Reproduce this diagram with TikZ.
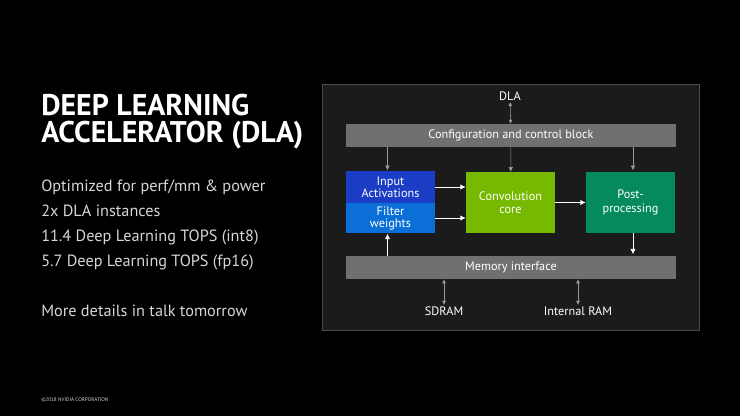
\documentclass[tikz,border=0pt]{standalone}
\usepackage{fontspec}
\setmainfont{PT Sans}
\usepackage{xcolor}
\usetikzlibrary{arrows.meta,positioning}

\definecolor{panelbg}{HTML}{1B1B1B}
\definecolor{panelrule}{HTML}{4A4A4A}
\definecolor{bargray}{HTML}{707070}
\definecolor{actblue}{HTML}{1B3DC6}
\definecolor{wgtblue}{HTML}{0B6FD8}
\definecolor{nvgreen}{HTML}{76B900}
\definecolor{postteal}{HTML}{058A60}
\definecolor{tipgray}{HTML}{9A9A9A}
\definecolor{bodytext}{HTML}{D6D6D6}

\begin{document}
\begin{tikzpicture}[x=0.75pt,y=-0.75pt,font=\fontsize{9.2pt}{10pt}\selectfont,
  bar/.style={fill=bargray,text=white,minimum width=247.5pt,minimum height=17.25pt,inner sep=0pt},
  unit/.style={text=white,align=center,minimum width=66.75pt,inner sep=0pt},
  lbl/.style={text=white,inner sep=1pt},
  arr/.style={-{Latex[length=4pt,width=4pt]},semithick,white},
  carr/.style={-{Latex[length=3.5pt,width=3.5pt]},thin,tipgray},
  darr/.style={{Latex[length=3pt,width=3pt]}-{Latex[length=3pt,width=3pt]},thin,tipgray}]
  % page and panel
  \fill[black] (0,0) rectangle (740,416);
  \filldraw[fill=panelbg,draw=panelrule] (322,84) rectangle (699,330);
  % left column
  \node[anchor=base west,inner sep=0pt,text=white,font=\fontsize{22.4pt}{25pt}\selectfont\bfseries] (title1) at (41,116) {DEEP LEARNING};
  \node[anchor=base west,inner sep=0pt,text=white,font=\fontsize{22.4pt}{25pt}\selectfont\bfseries] (title2) at (41,143) {ACCELERATOR (DLA)};
  \node[anchor=base west,inner sep=0pt,text=bodytext,font=\fontsize{12.2pt}{14pt}\selectfont] (pt1) at (41,192) {Optimized for perf/mm \& power};
  \node[anchor=base west,inner sep=0pt,text=bodytext,font=\fontsize{12.2pt}{14pt}\selectfont] (pt2) at (41,217) {2x DLA instances};
  \node[anchor=base west,inner sep=0pt,text=bodytext,font=\fontsize{12.2pt}{14pt}\selectfont] (pt3) at (41,242) {11.4 Deep Learning TOPS (int8)};
  \node[anchor=base west,inner sep=0pt,text=bodytext,font=\fontsize{12.2pt}{14pt}\selectfont] (pt4) at (41,267) {5.7 Deep Learning TOPS (fp16)};
  \node[anchor=base west,inner sep=0pt,text=bodytext,font=\fontsize{12.2pt}{14pt}\selectfont] (more) at (41,317) {More details in talk tomorrow};
  \node[anchor=base west,inner sep=0pt,text=bodytext,font=\fontsize{3.9pt}{5pt}\selectfont] (copy) at (41,402) {\textcopyright2018 NVIDIA CORPORATION};
  % block diagram
  \node[lbl] (dla) at (510,96) {DLA};
  \node[bar] (cfg) at (511,135.5) {Configuration and control block};
  \node[unit,fill=actblue,minimum height=24pt] (inact) at (390.5,187) {Input\\[-1pt]Activations};
  \node[unit,fill=wgtblue,minimum height=22.5pt] (filt) at (390.5,218) {Filter\\[-1pt]weights};
  \node[unit,fill=nvgreen,minimum height=45.75pt] (conv) at (510.5,202.5) {Convolution\\core};
  \node[unit,fill=postteal,minimum height=45.75pt] (post) at (630.5,202.5) {Post-\\processing};
  \node[bar] (mem) at (511,267.5) {Memory interface};
  \node[lbl] (sdram) at (444,311) {SDRAM};
  \node[lbl] (iram) at (578,311) {Internal RAM};
  \draw[darr] (dla) -- (cfg);
  \draw[carr] (cfg.south -| inact.north) ++(-3,0) -- ++(0,23);
  \draw[carr] (cfg) -- (conv);
  \draw[carr] (cfg.south -| post.north) ++(2.5,0) -- ++(0,23);
  \draw[arr] (inact.east) -- (conv.west |- inact.east);
  \draw[arr] (filt.east) -- (conv.west |- filt.east);
  \draw[arr] (conv) -- (post);
  \draw[arr] (mem.north -| filt.south) ++(-3,0) -- ++(0,-22);
  \draw[arr] (post.south) ++(2.5,0) -- ++(0,21);
  \draw[darr] (mem.south -| sdram.north) -- (sdram);
  \draw[darr] (mem.south -| iram.north) -- (iram);
\end{tikzpicture}
\end{document}
